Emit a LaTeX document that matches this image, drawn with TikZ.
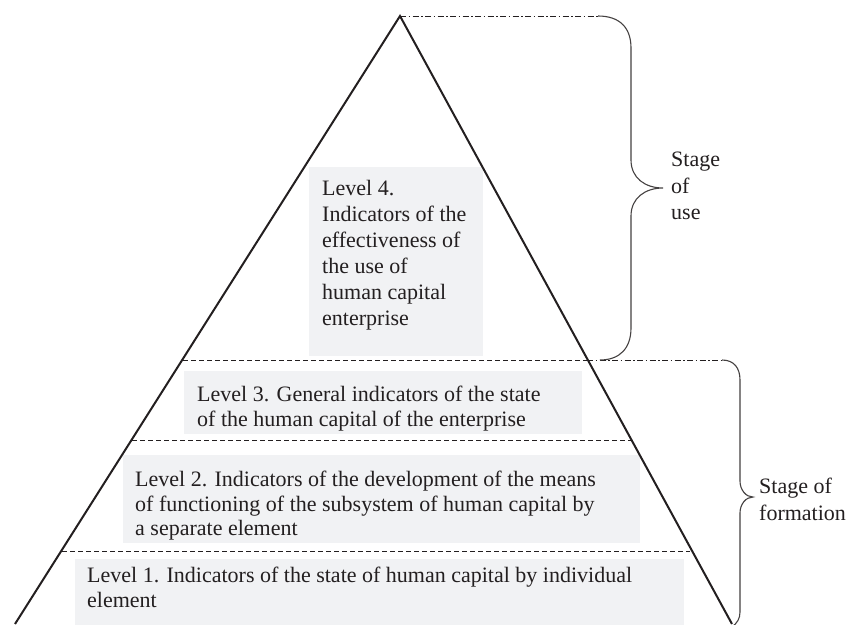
\documentclass[tikz,border=0pt]{standalone}
\usepackage{fontspec}
\setmainfont{Liberation Serif}
\newfontfamily\tnr{Liberation Serif}
\definecolor{boxgray}{RGB}{241,242,244}
\definecolor{ink}{RGB}{35,31,32}
\begin{document}
\begin{tikzpicture}[x=1pt,y=-1pt,
  boxn/.style={fill=boxgray, draw=none, inner sep=0pt, anchor=north west},
  txt/.style={anchor=north west, inner sep=0pt, align=left, text=ink, font=\tnr\fontsize{22}{25}\selectfont},
  txtb/.style={txt, font=\tnr\fontsize{22}{26}\selectfont},
  sidetxt/.style={txt, font=\tnr\fontsize{22}{26.5}\selectfont},
  tri/.style={draw=ink, line width=2pt, line join=miter},
  sep/.style={draw=ink, line width=1pt, dash pattern=on 5pt off 3pt},
  sepdot/.style={draw=ink, line width=1pt, dash pattern=on 6pt off 2.5pt on 1.5pt off 2.5pt},
  bracel/.style={draw=ink!85, line width=1.1pt}]
\useasboundingbox (0,0) rectangle (846,624);
% gray boxes
\node[boxn, minimum width=174pt, minimum height=189pt] (b4) at (309,167) {};
\node[boxn, minimum width=398pt, minimum height=63pt] (b3) at (184,371) {};
\node[boxn, minimum width=517pt, minimum height=88pt] (b2) at (123,455) {};
\node[boxn, minimum width=609pt, minimum height=70pt] (b1) at (75,559) {};
% texts
\node[txtb] (t4) at (322,180) {Level 4.\\Indicators of the\\effectiveness of\\the use of\\human capital\\enterprise};
\node[txt] (t3) at (197,386) {Level 3. General indicators of the state\\of the human capital of the enterprise};
\node[txt, font=\tnr\fontsize{22}{24.5}\selectfont] (t2) at (135,471) {Level 2. Indicators of the development of the means\\of functioning of the subsystem of human capital by\\a separate element};
\node[txt] (t1) at (87,567) {Level 1. Indicators of the state of human capital by individual\\element};
\node[sidetxt] (su) at (671,152) {Stage\\of\\use};
\node[sidetxt] (sf) at (759,478) {Stage of\\formation};
% triangle
\coordinate (apex) at (400,16);
\coordinate (bl) at (15,624);
\coordinate (br) at (732,624);
\draw[tri] (bl) -- (apex) -- (br);
% separators
\coordinate (l3a) at (183,360); \coordinate (r3a) at (587,360);
\coordinate (l2a) at (132,440); \coordinate (r2a) at (632,440);
\coordinate (l1a) at (62,551);  \coordinate (r1a) at (690,551);
\draw[sep] (l3a) -- (r3a);
\draw[sep] (l2a) -- (r2a);
\draw[sep] (l1a) -- (r1a);
% dash-dot leaders
\coordinate (bu0) at (598,16);
\coordinate (bf0) at (722,360);
\draw[sepdot] (apex) -- (bu0);
\draw[sepdot] (r3a) -- (bf0);
% brace: stage of use
\coordinate (tipu) at (663,188);
\draw[bracel] (bu0) .. controls (620,16) and (631,28) .. (631,48)
  -- (631,160) .. controls (631,178) and (645,188) .. (tipu)
  .. controls (645,188) and (631,198) .. (631,216)
  -- (631,328) .. controls (631,348) and (620,360) .. (600,360);
% brace: stage of formation
\coordinate (tipf) at (753,497);
\draw[bracel] (bf0) .. controls (734,360) and (740,368) .. (740,380)
  -- (740,481) .. controls (740,490) and (746,497) .. (tipf)
  .. controls (746,497) and (740,504) .. (740,513)
  -- (740,612) .. controls (740,619) and (737,623) .. (732,627);
\end{tikzpicture}
\end{document}
